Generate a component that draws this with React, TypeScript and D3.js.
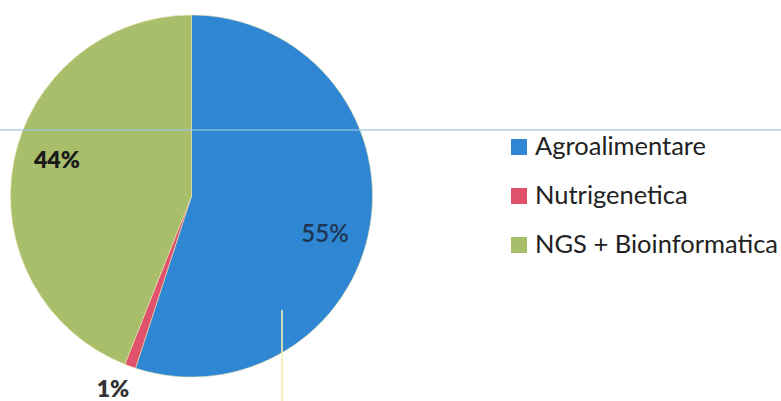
import React from "react";
import * as d3 from "d3";

const categories = ["Agroalimentare", "Nutrigenetica", "NGS + Bioinformatica"];
const values = [55, 1, 44];
const labels = ["55%", "1%", "44%"];
const colors = ["#2F86D3", "#E0516B", "#A8BE6B"];

export default function App() {
  const W = 781, H = 401;
  const cx = 191.5, cy = 196, r = 181;
  const pie = d3.pie<number>().sort(null).value((d) => d)(values);
  const arc = d3.arc<d3.PieArcDatum<number>>().innerRadius(0).outerRadius(r);
  const labelPos: [number, number][] = [
    [325, 242],
    [113, 397],
    [57, 168],
  ];
  const labelColor = ["#1f3550", "#333", "#1a1a1a"];
  return (
    <svg width={W} height={H} style={{ position: "absolute", left: 0, top: 0, background: "#fff" }}>
      <g transform={`translate(${cx},${cy})`}>
        {pie.map((p, i) => (
          <path key={i} d={arc(p) || ""} fill={colors[i]} stroke="#e8e3b0" strokeWidth={0.6} />
        ))}
      </g>
      <line x1={0} x2={W} y1={130} y2={130} stroke="#9cc4e6" strokeWidth={2} opacity={0.6} />
      <line x1={282} x2={282} y1={310} y2={H} stroke="#f2eeaa" strokeWidth={2} opacity={0.8} />
      {labels.map((t, i) => (
        <text
          key={i}
          x={labelPos[i][0]}
          y={labelPos[i][1]}
          textAnchor="middle"
          fontFamily="Lato, 'Open Sans', sans-serif"
          fontWeight={i === 0 ? 600 : 800}
          fontSize={i === 0 ? 24 : 23}
          fill={labelColor[i]}
        >
          {t}
        </text>
      ))}
      {categories.map((c, i) => (
        <g key={c} transform={`translate(511,${139 + i * 49})`}>
          <rect width={16} height={16} fill={colors[i]} />
          <text x={24} y={16} fontFamily="Lato, 'Open Sans', sans-serif" fontSize={25.5} fill="#222">
            {c}
          </text>
        </g>
      ))}
    </svg>
  );
}
